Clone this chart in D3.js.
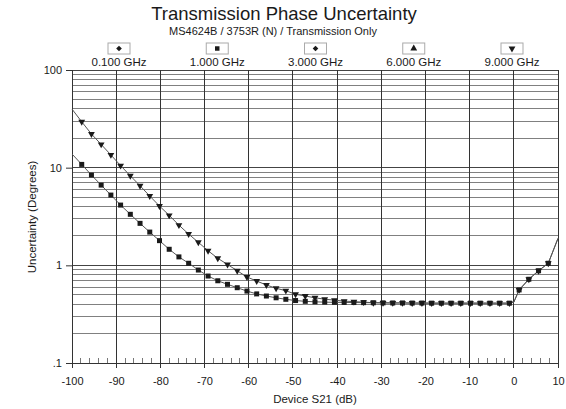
<!DOCTYPE html>
<html><head><meta charset="utf-8">
<script src="https://cdn.jsdelivr.net/npm/d3@7"></script>
<style>
body{margin:0;background:#fff;}
text{font-family:"Liberation Sans",Arial,sans-serif;fill:#1a1a1a;}
</style></head>
<body><svg id="c" width="566" height="409"></svg>
<script>
const title = "Transmission Phase Uncertainty";
const subtitle = "MS4624B / 3753R (N) / Transmission Only";
const xLabel = "Device S21 (dB)";
const yLabel = "Uncertainty (Degrees)";
const xTicks = [-100,-90,-80,-70,-60,-50,-40,-30,-20,-10,0,10];
const yTicks = [0.1,1,10,100];
const yTickLabels = [".1","1","10","100"];
const legendLabels = ["0.100 GHz","1.000 GHz","3.000 GHz","6.000 GHz","9.000 GHz"];
const legendSymbols = ["diamond","square","diamond","triangle","triangleDown"];

const dB = [-100,-97.8,-95.6,-93.4,-91.2,-89,-86.8,-84.6,-82.4,-80.2,-78,-75.8,-73.6,-71.4,-69.2,-67,-64.8,-62.6,-60.4,-58.2,-56,-53.8,-51.6,-49.4,-47.2,-45,-42.8,-40.6,-38.4,-36.2,-34,-31.8,-29.6,-27.4,-25.2,-23,-20.8,-18.6,-16.4,-14.2,-12,-9.8,-7.6,-5.4,-3.2,-1,0,1.2,3.4,5.6,7.8,10];
const noMarker = [-100,0,10];
const ghz1 = [13.8,10.8,8.4,6.63,5.24,4.14,3.33,2.69,2.19,1.79,1.46,1.22,1.05,0.895,0.777,0.695,0.639,0.59,0.545,0.51,0.485,0.465,0.449,0.436,0.428,0.423,0.42,0.418,0.417,0.416,0.415,0.414,0.413,0.412,0.412,0.411,0.411,0.41,0.41,0.41,0.41,0.41,0.41,0.41,0.41,0.41,0.42,0.56,0.72,0.88,1.05,1.89];
const ghz9 = [39.8,29.5,22.1,17.3,13.5,10.5,8.26,6.53,5.12,4.05,3.25,2.58,2.09,1.72,1.41,1.18,1.02,0.88,0.76,0.69,0.629,0.582,0.55,0.505,0.485,0.465,0.45,0.44,0.43,0.425,0.42,0.414,0.413,0.412,0.412,0.411,0.411,0.41,0.41,0.41,0.41,0.41,0.41,0.41,0.41,0.41,0.42,0.56,0.72,0.88,1.05,1.89];

const svg = d3.select("#c");
const x = d3.scaleLinear().domain([-100,10]).range([72,558]);
const y = d3.scaleLog().domain([0.1,100]).range([363,70]);

svg.append("text").attr("x",284).attr("y",20).attr("text-anchor","middle")
  .style("font-size","18.5px").text(title);
svg.append("text").attr("x",273).attr("y",35).attr("text-anchor","middle")
  .style("font-size","11px").text(subtitle);

// horizontal grid
svg.append("g").selectAll("line").data(y.ticks()).join("line")
  .attr("x1",72).attr("x2",558).attr("y1",d=>y(d)).attr("y2",d=>y(d))
  .attr("stroke",d=>yTicks.includes(+d.toPrecision(3))?"#444":"#808080").attr("stroke-width",1)
  .attr("shape-rendering","crispEdges");
// vertical grid
svg.append("g").selectAll("line").data(xTicks).join("line")
  .attr("x1",d=>x(d)).attr("x2",d=>x(d)).attr("y1",70).attr("y2",368)
  .attr("stroke","#333").attr("stroke-width",1).attr("shape-rendering","crispEdges");

// x axis
const xAxis = d3.axisBottom(x).tickValues(xTicks).tickSize(0).tickPadding(14).tickFormat(d=>String(d));
const gx = svg.append("g").attr("transform","translate(0,363)").call(xAxis);
gx.select(".domain").attr("stroke","#333");
gx.selectAll("text").style("font-size","11px").style("font-family","Liberation Sans, Arial, sans-serif").attr("fill","#1a1a1a");
// minor x ticks
const minor = d3.range(-100,11,2).filter(v=>v%10!==0);
svg.append("g").selectAll("line").data(minor).join("line")
  .attr("x1",d=>x(d)).attr("x2",d=>x(d)).attr("y1",363).attr("y2",358)
  .attr("stroke","#777").attr("shape-rendering","crispEdges");

// y axis
const yAxis = d3.axisLeft(y).tickValues(yTicks).tickSize(6).tickPadding(4)
  .tickFormat((d,i)=>yTickLabels[i]);
const gy = svg.append("g").attr("transform","translate(72,0)").call(yAxis);
gy.select(".domain").attr("stroke","#333");
gy.selectAll(".tick line").attr("stroke","#333");
gy.selectAll("text").style("font-size","11px").style("font-family","Liberation Sans, Arial, sans-serif").attr("fill","#1a1a1a");

svg.append("text").attr("x",315).attr("y",403).attr("text-anchor","middle")
  .style("font-size","11.5px").text(xLabel);
svg.append("text").attr("transform","translate(36,217) rotate(-90)").attr("text-anchor","middle")
  .style("font-size","11.5px").text(yLabel);

// series
const symbolMap = {
  diamond: d3.symbolSquare, square: d3.symbolSquare,
  triangle: d3.symbolTriangle, triangleDown: d3.symbolTriangle
};
const rot = {diamond:" rotate(45)", square:"", triangle:"", triangleDown:" rotate(180)"};
function sym(name,size){
  return d3.symbol().type(symbolMap[name]).size(size)();
}
const line = d3.line().x(d=>x(d[0])).y(d=>y(d[1]));
const seriesList = [
  {vals: ghz9, symbol:"triangleDown", size:20},
  {vals: ghz1, symbol:"square", size:25}
];
seriesList.forEach(s=>{
  const pts = dB.map((d,i)=>[d,s.vals[i]]);
  svg.append("path").datum(pts).attr("d",line).attr("fill","none")
    .attr("stroke","#555").attr("stroke-width",1);
  svg.append("g").selectAll("path").data(pts.filter(p=>!noMarker.includes(p[0]))).join("path")
    .attr("d",sym(s.symbol,s.size))
    .attr("transform",p=>`translate(${x(p[0])},${y(p[1])})${rot[s.symbol]}`)
    .attr("fill","#1a1a1a");
});

// legend header
const lx = d3.scalePoint().domain(legendLabels).range([119,512]);
const lg = svg.append("g").selectAll("g").data(legendLabels).join("g")
  .attr("transform",d=>`translate(${lx(d)},0)`);
lg.append("rect").attr("x",-11).attr("y",43).attr("width",22).attr("height",11)
  .attr("fill","#fff").attr("stroke","#aaa");
lg.append("path").attr("d",(d,i)=>sym(legendSymbols[i],legendSymbols[i]==="diamond"?16:20))
  .attr("transform",(d,i)=>`translate(0,48.5)${rot[legendSymbols[i]]}`)
  .attr("fill","#1a1a1a");
lg.append("text").attr("y",66).attr("text-anchor","middle").style("font-size","11.5px").text(d=>d);
</script></body></html>
